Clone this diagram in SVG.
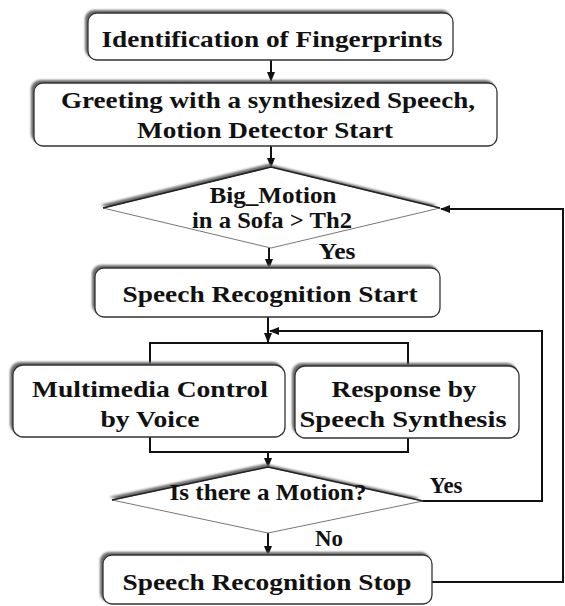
<svg xmlns="http://www.w3.org/2000/svg" width="565" height="606" viewBox="0 0 565 606">
  <defs>
    <filter id="soft" x="-10%" y="-10%" width="120%" height="120%">
      <feGaussianBlur stdDeviation="1.1"/>
    </filter>
    <marker id="arrow" viewBox="0 0 10 10" refX="9" refY="5" markerWidth="5" markerHeight="5" orient="auto">
      <path d="M0,1 L10,5 L0,9 Z" fill="#111"/>
    </marker>
  </defs>
  <style>
    .shadow { fill: #6a6a6a; filter: url(#soft); }
    .box { fill: #fff; stroke: #333; stroke-width: 1.3; }
    .dia { fill: #fff; stroke: #777; stroke-width: 1; }
    .diaTop { fill: none; stroke: #222; stroke-width: 1.6; }
    .conn { fill: none; stroke: #111; stroke-width: 2; }
    text { font-family: "Liberation Serif", "Times New Roman", serif; font-weight: bold; font-size: 23px; fill: #111; text-anchor: middle; }
  </style>
  <rect width="565" height="606" fill="#fff"/>

  <!-- connectors -->
  <g id="connectors">
    <line class="conn" x1="271" y1="60" x2="271" y2="81" marker-end="url(#arrow)"/>
    <line class="conn" x1="271" y1="146" x2="271" y2="167" marker-end="url(#arrow)"/>
    <line class="conn" x1="269" y1="248" x2="269" y2="268" marker-end="url(#arrow)"/>
    <line class="conn" x1="268" y1="317" x2="268" y2="342" marker-end="url(#arrow)"/>
    <polyline class="conn" points="150,365 150,343 408,343 408,366"/>
    <polyline class="conn" points="150,437 150,452 408,452 408,438"/>
    <line class="conn" x1="268" y1="452" x2="268" y2="467" marker-end="url(#arrow)"/>
    <line class="conn" x1="268" y1="533" x2="268" y2="555" marker-end="url(#arrow)"/>
    <polyline class="conn" points="423,501 542,501 542,331 270,331" marker-end="url(#arrow)"/>
    <polyline class="conn" points="432,582 563,582 563,209 441,209" marker-end="url(#arrow)"/>
  </g>

  <g id="fingerprints">
    <rect class="shadow" x="85" y="10" width="366" height="48" rx="9"/>
    <rect class="box" x="88" y="13" width="365" height="47" rx="9"/>
    <text x="272" y="47" textLength="341" lengthAdjust="spacingAndGlyphs">Identification of Fingerprints</text>
  </g>

  <g id="greeting">
    <rect class="shadow" x="31" y="80" width="464" height="63" rx="9"/>
    <rect class="box" x="34" y="83" width="463" height="63" rx="9"/>
    <text x="268" y="108" textLength="414" lengthAdjust="spacingAndGlyphs">Greeting with a synthesized Speech,</text>
    <text x="265" y="138" textLength="256" lengthAdjust="spacingAndGlyphs">Motion Detector Start</text>
  </g>

  <g id="big-motion">
    <polygon class="shadow" points="268,164 437,205 268,245 100,205"/>
    <polygon class="dia" points="271,167 440,208 271,248 103,208"/>
    <polyline class="diaTop" points="103,208 271,167 440,208"/>
    <text x="273" y="203" textLength="127" lengthAdjust="spacingAndGlyphs">Big_Motion</text>
    <text x="272" y="228" textLength="160" lengthAdjust="spacingAndGlyphs">in a Sofa &gt; Th2</text>
    <text x="337" y="259" textLength="37" lengthAdjust="spacingAndGlyphs">Yes</text>
  </g>

  <g id="recognition-start">
    <rect class="shadow" x="92" y="265" width="346" height="49" rx="9"/>
    <rect class="box" x="95" y="268" width="345" height="49" rx="9"/>
    <text x="270" y="302" textLength="295" lengthAdjust="spacingAndGlyphs">Speech Recognition Start</text>
  </g>

  <g id="multimedia">
    <rect class="shadow" x="10" y="362" width="273" height="72" rx="10"/>
    <rect class="box" x="13" y="365" width="272" height="72" rx="10"/>
    <text x="150" y="397" textLength="236" lengthAdjust="spacingAndGlyphs">Multimedia Control</text>
    <text x="150" y="427" textLength="99" lengthAdjust="spacingAndGlyphs">by Voice</text>
  </g>

  <g id="response">
    <rect class="shadow" x="292" y="363" width="225" height="72" rx="10"/>
    <rect class="box" x="295" y="366" width="224" height="72" rx="10"/>
    <text x="404" y="397" textLength="145" lengthAdjust="spacingAndGlyphs">Response by</text>
    <text x="403" y="427" textLength="207" lengthAdjust="spacingAndGlyphs">Speech Synthesis</text>
  </g>

  <g id="motion-check">
    <polygon class="shadow" points="265,464 420,498 265,530 109,497"/>
    <polygon class="dia" points="268,467 423,501 268,533 112,500"/>
    <polyline class="diaTop" points="112,500 268,467 423,501"/>
    <text x="268" y="500" textLength="197" lengthAdjust="spacingAndGlyphs">Is there a Motion?</text>
    <text x="446" y="493" textLength="33" lengthAdjust="spacingAndGlyphs">Yes</text>
    <text x="329" y="546" textLength="28" lengthAdjust="spacingAndGlyphs">No</text>
  </g>

  <g id="recognition-stop">
    <rect class="shadow" x="100" y="552" width="330" height="50" rx="9"/>
    <rect class="box" x="103" y="555" width="329" height="49" rx="9"/>
    <text x="267" y="590" textLength="289" lengthAdjust="spacingAndGlyphs">Speech Recognition Stop</text>
  </g>
</svg>
